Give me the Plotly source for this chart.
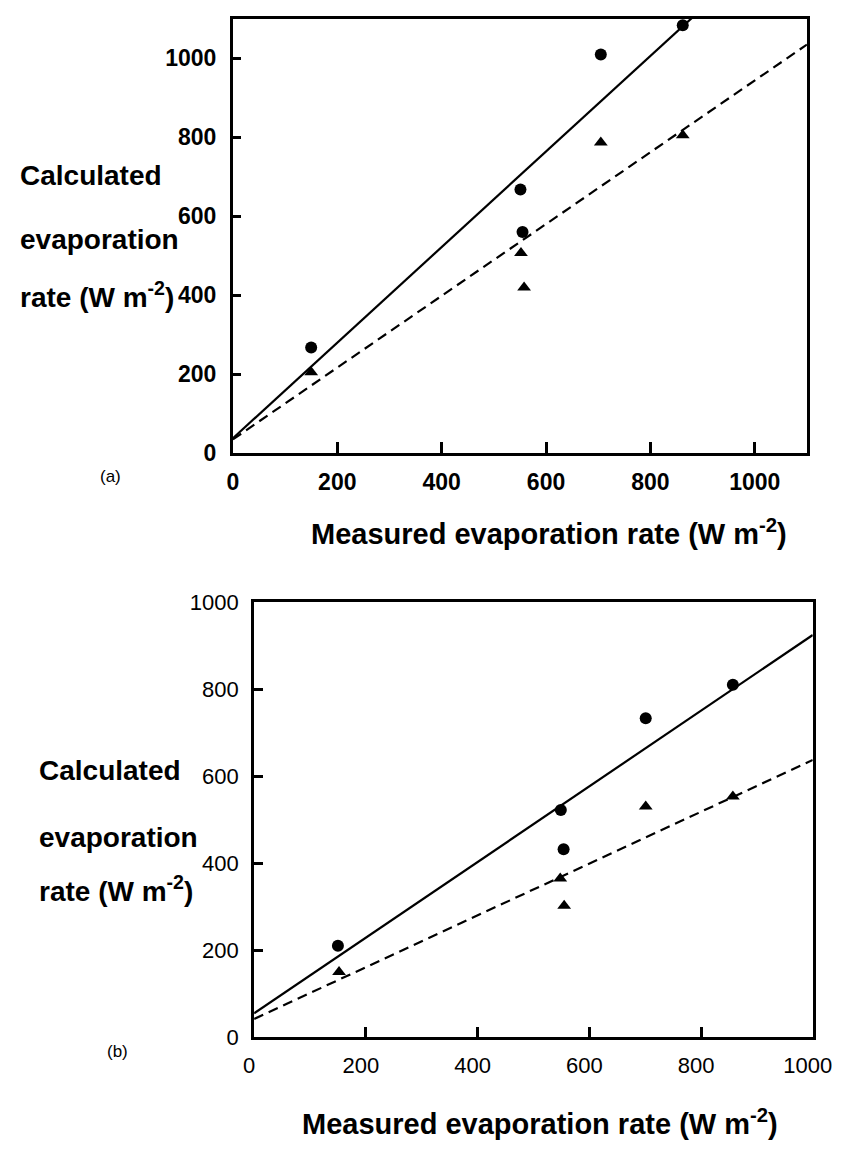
import plotly.graph_objects as go

W, H = 852, 1154

# ---------------- data ----------------
# panel (a)
a_circle_x = [150, 551, 555, 705, 862]
a_circle_y = [268, 668, 560, 1010, 1084]
a_tri_x = [150, 552, 558, 705, 862]
a_tri_y = [205, 507, 420, 787, 805]
a_solid_fit = (38, 1.21)     # intercept, slope
a_dash_fit = (35, 0.909)
a_xmax = 1100

# panel (b)
b_circle_x = [150, 549, 554, 701, 857]
b_circle_y = [210, 522, 432, 733, 810]
b_tri_x = [152, 548, 555, 701, 857]
b_tri_y = [150, 365, 302, 530, 553]
b_solid_fit = (55, 0.869)
b_dash_fit = (42, 0.595)
b_xmax = 1000

tick_vals = [0, 200, 400, 600, 800, 1000]
tick_text = ["0", "200", "400", "600", "800", "1000"]

x_title = "Measured evaporation rate (W m<sup>-2</sup>)"
y_title_lines = ["Calculated", "evaporation", "rate (W m<sup>-2</sup>)"]

FONT = "Liberation Sans, Arial, Helvetica, sans-serif"


def px(x):
    return x / W


def py(y):
    return 1 - y / H


fig = go.Figure()


def add_panel(n, cx, cy, tx, ty, solid, dash, xmax):
    xa = "x" if n == 1 else "x2"
    ya = "y" if n == 1 else "y2"
    fx = [0, xmax]
    fig.add_trace(go.Scatter(x=fx, y=[solid[0] + solid[1] * v for v in fx],
                             mode="lines", line=dict(color="black", width=2.2),
                             xaxis=xa, yaxis=ya, showlegend=False, hoverinfo="skip"))
    fig.add_trace(go.Scatter(x=fx, y=[dash[0] + dash[1] * v for v in fx],
                             mode="lines", line=dict(color="black", width=2.2, dash="10px,6px"),
                             xaxis=xa, yaxis=ya, showlegend=False, hoverinfo="skip"))
    fig.add_trace(go.Scatter(x=cx, y=cy, mode="markers",
                             marker=dict(symbol="circle", size=12, color="black"),
                             xaxis=xa, yaxis=ya, showlegend=False, cliponaxis=False))
    fig.add_trace(go.Scatter(x=tx, y=ty, mode="markers",
                             marker=dict(symbol="triangle-up", size=12, color="black"),
                             xaxis=xa, yaxis=ya, showlegend=False, cliponaxis=False))


add_panel(1, a_circle_x, a_circle_y, a_tri_x, a_tri_y, a_solid_fit, a_dash_fit, a_xmax)
add_panel(2, b_circle_x, b_circle_y, b_tri_x, b_tri_y, b_solid_fit, b_dash_fit, b_xmax)


def axis(domain, rng, anchor, bold, ticklen, standoff, shift=0):
    return dict(
        domain=domain, range=rng, anchor=anchor,
        tickmode="array", tickvals=tick_vals, ticktext=tick_text,
        ticks="inside", ticklen=ticklen, tickwidth=3, tickcolor="black",
        showline=True, linewidth=3, linecolor="black", mirror=True,
        showgrid=False, zeroline=False,
        tickfont=dict(family=FONT, size=23 if bold else 22, color="black",
                      weight="bold" if bold else "normal"),
        ticklabelstandoff=standoff,
        ticklabelshift=shift,
        fixedrange=True,
    )


fig.update_layout(
    width=W, height=H,
    margin=dict(l=0, r=0, t=0, b=0),
    paper_bgcolor="white", plot_bgcolor="white",
    font=dict(family=FONT, color="black"),
    xaxis=axis([px(230), px(825)], [0, a_xmax], "y", True, 11, 6),
    yaxis=axis([py(451), py(7)], [0, 1100], "x", True, 8, 9),
    xaxis2=axis([px(252), px(831)], [0, b_xmax], "y2", False, 10, 6, -5),
    yaxis2=axis([py(1048), py(603)], [0, 1000], "x2", False, 9, 8),
)

ann = []
# y titles (three left-aligned lines per panel)
for ys, x0 in (((167, 233, 289), 7), ((775, 844, 896), 27)):
    for line, yy in zip(y_title_lines, ys):
        ann.append(dict(x=px(x0), y=py(yy), xref="paper", yref="paper",
                        text=line, showarrow=False, xanchor="left", yanchor="middle",
                        font=dict(family=FONT, size=28, color="black", weight="bold")))
# x titles
for xc, yy in ((558, 532), (548, 1135)):
    ann.append(dict(x=px(xc), y=py(yy), xref="paper", yref="paper",
                    text=x_title, showarrow=False, xanchor="center", yanchor="middle",
                    font=dict(family=FONT, size=29, color="black", weight="bold")))
# panel letters
for t, xx, yy in (("(a)", 103, 475), ("(b)", 110, 1063)):
    ann.append(dict(x=px(xx), y=py(yy), xref="paper", yref="paper",
                    text=t, showarrow=False, xanchor="center", yanchor="middle",
                    font=dict(family=FONT, size=17, color="black")))
fig.update_layout(annotations=ann)

fig.write_html("out.html", config={"displayModeBar": False, "displaylogo": False},
               post_script="document.body.style.margin='0px';")
